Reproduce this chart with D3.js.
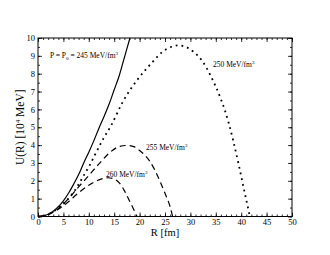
<!DOCTYPE html>
<html>
<head>
<meta charset="utf-8">
<script src="https://cdn.jsdelivr.net/npm/d3@7"></script>
<style>
  body { margin: 0; background: #fff; }
  svg text { font-family: "Liberation Serif", "DejaVu Serif", serif; fill: #000; }
</style>
</head>
<body>
<div id="chart"></div>
<script>
// curves: R [fm] and U(R) [10^4 MeV]
const r245 = [0, 1, 2, 3, 4, 5, 6, 7, 8, 9, 10, 11, 12, 13, 14, 15, 16, 17, 18, 18.1];
const u245 = [0, 0.03, 0.13, 0.3, 0.55, 0.88, 1.3, 1.8, 2.35, 3.0, 3.6, 4.25, 4.95, 5.6, 6.3, 7.1, 7.9, 8.9, 9.9, 10];

const r250 = [0, 2, 4, 6.3, 7.3, 8.3, 9.25, 10.2, 11.2, 12.9, 14.4, 16.7, 19.4, 22.6, 24.3, 26.3, 27.5, 28.6, 30.6, 32.3, 34.1, 36.0, 37.5, 38.4, 39.5, 40.5, 41.5, 41.7];
const u250 = [0, 0.12, 0.48, 1.11, 1.48, 1.95, 2.42, 2.88, 3.45, 4.38, 5.1, 6.43, 7.6, 8.67, 9.18, 9.51, 9.59, 9.55, 9.23, 8.73, 7.82, 6.58, 5.28, 4.28, 2.92, 1.58, 0.27, 0];

const r255 = [0, 2, 4, 6, 8, 10, 12, 14, 16, 17.6, 19, 20, 21, 22, 23, 24, 25, 26, 26.5];
const u255 = [0, 0.12, 0.45, 1.0, 1.66, 2.3, 2.95, 3.55, 3.92, 3.98, 3.9, 3.7, 3.45, 3.1, 2.6, 1.98, 1.3, 0.55, 0];

const r260 = [0, 2, 4, 6, 8, 10, 12, 13.8, 15, 16, 17, 18, 19, 19.5];
const u260 = [0, 0.11, 0.4, 0.83, 1.33, 1.75, 2.05, 2.17, 2.1, 1.88, 1.45, 0.88, 0.3, 0];

const xTicks = [0, 5, 10, 15, 20, 25, 30, 35, 40, 45, 50];
const yTicks = [0, 1, 2, 3, 4, 5, 6, 7, 8, 9, 10];

const width = 330, height = 255;
const margin = {left: 38, right: 38, top: 38, bottom: 38.5};

const svg = d3.select('#chart').append('svg')
    .attr('width', width)
    .attr('height', height);

const x = d3.scaleLinear().domain([0, 50]).range([margin.left, width - margin.right]);
const y = d3.scaleLinear().domain([0, 10]).range([height - margin.bottom, margin.top]);

// ticks pointing inward on all four sides
function addAxis(axis, transform, labels) {
    const g = svg.append('g').attr('transform', transform).call(axis);
    g.select('.domain').remove();
    g.selectAll('line').attr('stroke', '#000').attr('stroke-width', 0.8);
    if (labels) g.selectAll('text').attr('font-size', 8.5);
    return g;
}
const minorX = d3.range(0, 51, 1);
const minorY = d3.range(0, 10.01, 0.5);
const H = height - margin.bottom, W = width - margin.right;

addAxis(d3.axisBottom(x).tickValues(minorX).tickSize(-2).tickFormat(''), `translate(0,${H})`);
addAxis(d3.axisBottom(x).tickValues(xTicks).tickSize(-4).tickPadding(2).tickFormat(d3.format('d')), `translate(0,${H})`, true);
addAxis(d3.axisTop(x).tickValues(minorX).tickSize(-2).tickFormat(''), `translate(0,${margin.top})`);
addAxis(d3.axisTop(x).tickValues(xTicks).tickSize(-4).tickFormat(''), `translate(0,${margin.top})`);
addAxis(d3.axisLeft(y).tickValues(minorY).tickSize(-2).tickFormat(''), `translate(${margin.left},0)`);
addAxis(d3.axisLeft(y).tickValues(yTicks).tickSize(-4).tickPadding(3).tickFormat(d3.format('d')), `translate(${margin.left},0)`, true);
addAxis(d3.axisRight(y).tickValues(minorY).tickSize(-2).tickFormat(''), `translate(${W},0)`);
addAxis(d3.axisRight(y).tickValues(yTicks).tickSize(-4).tickFormat(''), `translate(${W},0)`);

svg.append('rect')
    .attr('x', margin.left).attr('y', margin.top)
    .attr('width', W - margin.left).attr('height', H - margin.top)
    .attr('fill', 'none').attr('stroke', '#000').attr('stroke-width', 1);

const line = d3.line()
    .x(d => x(d[0]))
    .y(d => y(d[1]))
    .curve(d3.curveMonotoneX);

function drawCurve(rs, us, dash, sw) {
    svg.append('path')
        .datum(rs.map((r, i) => [r, us[i]]))
        .attr('d', line)
        .attr('fill', 'none')
        .attr('stroke', '#000')
        .attr('stroke-width', sw)
        .attr('stroke-dasharray', dash);
}
drawCurve(r245, u245, null, 1.2);
drawCurve(r250, u250, '1.8,4', 1.8);
drawCurve(r255, u255, '6,4', 1.2);
drawCurve(r260, u260, '6,4', 1.2);

// curve labels
function label(xp, yp, parts) {
    const t = svg.append('text').attr('x', xp).attr('y', yp).attr('font-size', 7.5);
    parts.forEach(p => {
        const s = t.append('tspan').text(p.t);
        if (p.sup) s.attr('font-size', 5).attr('baseline-shift', '60%');
        if (p.sub) s.attr('font-size', 5).attr('baseline-shift', '-30%');
    });
}
label(50, 58, [{t: 'P = P'}, {t: '0', sub: true}, {t: ' = 245 MeV/fm'}, {t: '3', sup: true}]);
label(213, 67, [{t: '250 MeV/fm'}, {t: '3', sup: true}]);
label(146, 150, [{t: '255 MeV/fm'}, {t: '3', sup: true}]);
label(106, 177, [{t: '260 MeV/fm'}, {t: '3', sup: true}]);

// axis titles
svg.append('text')
    .attr('x', (margin.left + W) / 2).attr('y', 236)
    .attr('text-anchor', 'middle').attr('font-size', 10.5)
    .text('R [fm]');

const yt = svg.append('text')
    .attr('transform', `translate(24,${(margin.top + H) / 2}) rotate(-90)`)
    .attr('text-anchor', 'middle').attr('font-size', 11.5);
yt.append('tspan').text('U(R) [10');
yt.append('tspan').text('4').attr('font-size', 7).attr('baseline-shift', '60%');
yt.append('tspan').text(' MeV]');
</script>
</body>
</html>
